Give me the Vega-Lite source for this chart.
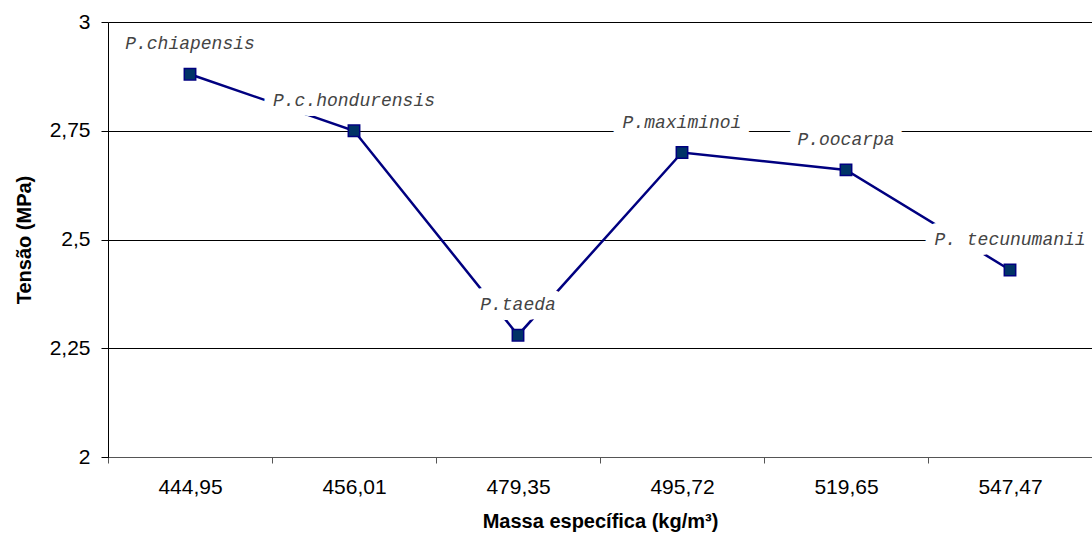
{
  "$schema": "https://vega.github.io/schema/vega-lite/v6.json",
  "width": 984,
  "height": 435,
  "autosize": {"type": "none"},
  "padding": {"left": 108, "top": 22, "right": 0, "bottom": 80},
  "background": "white",
  "config": {
    "view": {"stroke": null},
    "font": "Liberation Sans"
  },
  "data": {
    "values": [
      {"massa": "444,95", "tensao": 2.88, "especie": "P.chiapensis"},
      {"massa": "456,01", "tensao": 2.75, "especie": "P.c.hondurensis"},
      {"massa": "479,35", "tensao": 2.28, "especie": "P.taeda"},
      {"massa": "495,72", "tensao": 2.70, "especie": "P.maximinoi"},
      {"massa": "519,65", "tensao": 2.66, "especie": "P.oocarpa"},
      {"massa": "547,47", "tensao": 2.43, "especie": "P. tecunumanii"}
    ]
  },
  "encoding": {
    "x": {
      "field": "massa",
      "type": "ordinal",
      "sort": null,
      "scale": {"type": "band", "paddingInner": 0, "paddingOuter": 0},
      "axis": {
        "title": "Massa específica (kg/m³)",
        "titleFont": "Liberation Sans",
        "titleFontSize": 20,
        "titleFontWeight": "bold",
        "titleColor": "black",
        "titlePadding": 14,
        "labelFont": "Liberation Sans",
        "labelFontSize": 21,
        "labelColor": "black",
        "labelAngle": 0,
        "labelPadding": 13,
        "tickBand": "extent",
        "tickSize": 6,
        "tickColor": "#555",
        "domainColor": "#555",
        "grid": false
      }
    },
    "y": {
      "field": "tensao",
      "type": "quantitative",
      "scale": {"domain": [2, 3], "nice": false, "zero": false},
      "axis": {
        "title": "Tensão (MPa)",
        "titleFont": "Liberation Sans",
        "titleFontSize": 20,
        "titleFontWeight": "bold",
        "titleColor": "black",
        "titlePadding": 15,
        "values": [2, 2.25, 2.5, 2.75, 3],
        "labelExpr": "replace(format(datum.value, '~g'), '.', ',')",
        "labelFont": "Liberation Sans",
        "labelFontSize": 21,
        "labelColor": "black",
        "labelPadding": 11,
        "tickSize": 7,
        "tickColor": "black",
        "domainColor": "black",
        "grid": true,
        "gridColor": "black",
        "gridOpacity": 1,
        "gridWidth": 1
      }
    }
  },
  "layer": [
    {
      "mark": {"type": "line", "color": "#000080", "strokeWidth": 2.5}
    },
    {
      "mark": {"type": "point", "shape": "square", "filled": true, "size": 130, "fill": "#003366", "stroke": "#000080", "strokeWidth": 1.5, "opacity": 1}
    },
    {
      "mark": {"type": "text", "font": "Liberation Mono", "fontStyle": "italic", "fontSize": 18, "baseline": "middle", "align": "center", "dy": -30, "stroke": "white", "strokeWidth": 20, "strokeJoin": "round", "fill": "white"},
      "encoding": {"text": {"field": "especie"}}
    },
    {
      "mark": {"type": "text", "font": "Liberation Mono", "fontStyle": "italic", "fontSize": 18, "baseline": "middle", "align": "center", "dy": -30, "fill": "#444"},
      "encoding": {"text": {"field": "especie"}}
    }
  ]
}
